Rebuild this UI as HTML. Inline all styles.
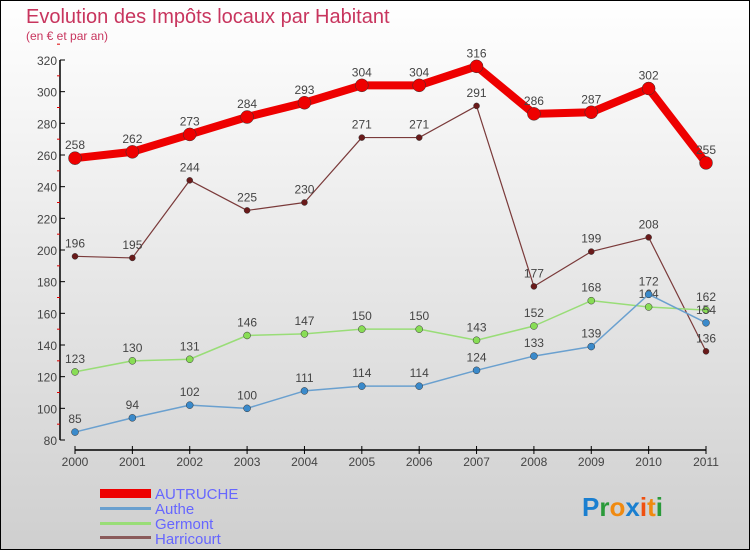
<!DOCTYPE html>
<html><head><meta charset="utf-8"><style>
body{margin:0;width:750px;height:550px;overflow:hidden;font-family:"Liberation Sans",sans-serif}
</style></head><body>
<svg id="c" width="750" height="550" xmlns="http://www.w3.org/2000/svg">
<defs><linearGradient id="bg" x1="0" y1="0" x2="0" y2="1"><stop offset="0" stop-color="#ffffff"/><stop offset="1" stop-color="#cfcfcf"/></linearGradient></defs>
<rect x="0.5" y="0.5" width="749" height="549" fill="url(#bg)" stroke="#000" stroke-width="1"/>
<text x="26" y="23" font-size="20" fill="#c8355e">Evolution des Impôts locaux par Habitant</text>
<text x="26" y="40" font-size="12" fill="#c8355e">(en € et par an)</text>
<g id="axes"></g><g id="series"></g>
<g font-size="15" fill="#6666ff">
<rect x="100" y="489" width="51" height="9" fill="#ee0000"/>
<text x="155" y="499">AUTRUCHE</text>
<rect x="100" y="507" width="51" height="3" fill="#6aa0cf"/>
<text x="155" y="514">Authe</text>
<rect x="100" y="522" width="51" height="3" fill="#99dd77"/>
<text x="155" y="529">Germont</text>
<rect x="100" y="536" width="51" height="3" fill="#8a5a5a"/>
<text x="155" y="544">Harricourt</text>
</g>
<text x="582" y="516" font-size="26" font-weight="bold"><tspan fill="#1a7fd0">P</tspan><tspan fill="#2a9a3a">r</tspan><tspan fill="#f08a10">o</tspan><tspan fill="#1a7fd0">x</tspan><tspan fill="#f05010">i</tspan><tspan fill="#f08a10">t</tspan><tspan fill="#2a9a3a">i</tspan></text>
</svg>
<script>
const years=["2000","2001","2002","2003","2004","2005","2006","2007","2008","2009","2010","2011"];
const yTicks=[80,100,120,140,160,180,200,220,240,260,280,300,320];
const autruche=[258,262,273,284,293,304,304,316,286,287,302,255];
const authe=[85,94,102,100,111,114,114,124,133,139,172,154];
const germont=[123,130,131,146,147,150,150,143,152,168,164,162];
const harricourt=[196,195,244,225,230,271,271,291,177,199,208,136];
const NS="http://www.w3.org/2000/svg";
function X(i){return 75+i*(706-75)/11;}
function Y(v){return 440-(v-80)*(380/240);}
function mk(t,a,p){const e=document.createElementNS(NS,t);for(const k in a)e.setAttribute(k,a[k]);p.appendChild(e);return e;}
const ax=document.getElementById('axes');
const yl=mk('line',{x1:60,y1:Y(320),x2:60,y2:Y(80),stroke:'#000','stroke-width':1.5},ax);


yTicks.forEach(v=>{
 const t=mk('line',{x1:60,y1:Y(v),x2:65,y2:Y(v),stroke:'#000'},ax);
 
 
 const m=mk('line',{x1:57,y1:Y(v+10),x2:60,y2:Y(v+10),stroke:'#d00'},ax);
 
 
 const l=mk('text',{x:57,y:Y(v)+5,'text-anchor':'end','font-size':12,fill:'#444'},ax);l.textContent=v;
 
 
});
const xl=mk('line',{x1:X(0),y1:450,x2:X(11),y2:450,stroke:'#000','stroke-width':1.5},ax);


years.forEach((y,i)=>{
 const t=mk('line',{x1:X(i),y1:446,x2:X(i),y2:454,stroke:'#000'},ax);
 
 
 const l=mk('text',{x:X(i),y:466,'text-anchor':'middle','font-size':12,fill:'#444'},ax);l.textContent=y;
 
 
});
const sg=document.getElementById('series');
function series(name,data,color,w,r,fill){
 const g=mk('g',{},sg);
 
 
 const p=mk('polyline',{points:data.map((v,i)=>X(i)+','+Y(v)).join(' '),fill:'none',stroke:color,'stroke-width':w,'stroke-linejoin':'round'},g);
 
 
 data.forEach((v,i)=>{
  const c=mk('circle',{cx:X(i),cy:Y(v),r:r,fill:fill,stroke:'#333','stroke-width':0.5},g);
  
  
  const t=mk('text',{x:X(i),y:Y(v)-9,'text-anchor':'middle','font-size':12,fill:'#444'},g);t.textContent=v;
  
  
 });
}
series('harricourt',harricourt,'#7a3a3a',1.2,3,'#6a1a1a');
series('germont',germont,'#99dd77',1.5,3.5,'#88dd55');
series('authe',authe,'#6aa0cf',1.5,3.5,'#3a8acb');
series('autruche',autruche,'#ee0000',8,6.5,'#ee0000');
</script>
</body></html>
